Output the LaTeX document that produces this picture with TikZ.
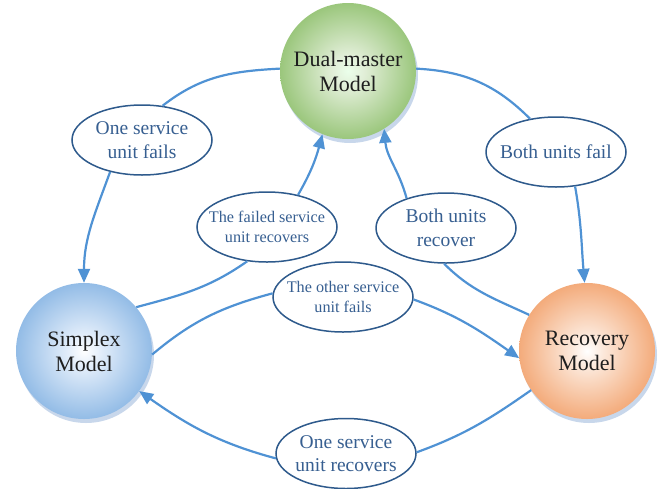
\documentclass[tikz,border=0pt]{standalone}
\usepackage{fontspec}
\setmainfont{Liberation Serif}
\newfontfamily\timesfam{Liberation Serif}
\usetikzlibrary{shapes.geometric,arrows.meta}
\definecolor{edgeblue}{RGB}{79,146,212}
\definecolor{ellborder}{RGB}{46,90,140}
\definecolor{elltext}{RGB}{55,95,145}
\definecolor{shadowblue}{RGB}{200,215,235}
\pgfdeclareradialshading{greensph}{\pgfpoint{0bp}{0bp}}{color(0bp)=(white!92!green); color(6bp)=({rgb,255:red,225;green,238;blue,215}); color(30bp)=({rgb,255:red,136;green,188;blue,100}); color(50bp)=({rgb,255:red,104;green,166;blue,62})}
\pgfdeclareradialshading{bluesph}{\pgfpoint{0bp}{0bp}}{color(0bp)=(white); color(6bp)=({rgb,255:red,226;green,237;blue,250}); color(30bp)=({rgb,255:red,126;green,175;blue,225}); color(50bp)=({rgb,255:red,80;green,142;blue,210})}
\pgfdeclareradialshading{orangesph}{\pgfpoint{0bp}{0bp}}{color(0bp)=(white); color(6bp)=({rgb,255:red,252;green,232;blue,218}); color(30bp)=({rgb,255:red,241;green,155;blue,98}); color(50bp)=({rgb,255:red,235;green,122;blue,48})}
\begin{document}
\begin{tikzpicture}[x=1pt,y=1pt,
  sphere/.style={circle,minimum size=136pt,inner sep=0pt,align=center,
    font=\timesfam\fontsize{22}{25}\selectfont,text={rgb,255:red,30;green,30;blue,30}},
  shadowc/.style={circle,minimum size=136pt,inner sep=0pt,fill=shadowblue},
  ellshape/.style={ellipse,draw=ellborder,line width=1.5pt,fill=white,
    minimum width=140pt,minimum height=70pt,inner sep=0pt},
  lbltext/.style={inner sep=0pt,align=center,text=elltext,
    font=\timesfam\fontsize{19.5}{23.5}\selectfont},
  smalltext/.style={lbltext,font=\timesfam\fontsize{16.2}{20}\selectfont},
  conn/.style={draw=edgeblue,line width=2.2pt},
  arr/.style={conn,-{Triangle[length=14pt,width=12pt]}}]
\useasboundingbox (0,0) rectangle (661,-488);
% shadows
\node[shadowc] (dmsh) at (350,-75) {};
\node[shadowc] (sxsh) at (86,-355) {};
\node[shadowc] (rcsh) at (589,-355) {};
% spheres
\node[sphere,shading=greensph] (dm) at (348,-71) {Dual-master\\Model};
\node[sphere,shading=bluesph] (sx) at (84,-351) {Simplex\\Model};
\node[sphere,shading=orangesph] (rc) at (587,-351) {Recovery\\Model};
% label ellipses
\node[ellshape] (os1) at (142,-140) {};
\node[ellshape] (bf) at (556,-152) {};
\node[ellshape] (fr) at (267,-227) {};
\node[ellshape] (br) at (446,-228) {};
\node[ellshape] (of) at (343,-297) {};
\node[ellshape] (ur) at (346,-453.5) {};
\node[lbltext] (os1t) at (os1) {One service\\unit fails};
\node[lbltext] (bft) at (bf) {Both units fail};
\node[smalltext] (frt) at (fr) {The failed service\\unit recovers};
\node[lbltext] (brt) at (br) {Both units\\recover};
\node[smalltext] (oft) at (of) {The other service\\unit fails};
\node[lbltext] (urt) at (ur) {One service\\unit recovers};
% connectors (first halves)
\draw[conn] (dm.178) to[out=183,in=38] (os1.59);
\draw[conn] (dm.2) to[out=-3,in=135] (bf.128);
\draw[conn] (sx.40) to[out=15,in=215] (fr.240);
\draw[conn] (rc.148) to[out=155,in=-45] (br.267);
\draw[conn] (sx.-3) to[out=40,in=195] (of.177);
\draw[conn] (rc.215) to[out=215,in=20] (ur.1);
% arrows (second halves)
\draw[arr] (os1.225) to[out=250,in=90] (sx.90);
\draw[arr] (bf.-61) to[out=-80,in=95] (rc.92);
\draw[arr] (fr.46) to[out=60,in=255] (dm.248);
\draw[arr] (br.143) to[out=105,in=-85] (dm.302);
\draw[arr] (of.-2) to[out=-20,in=145] (rc.186);
\draw[arr] (ur.184) to[out=165,in=-35] (sx.324);
\end{tikzpicture}
\end{document}
